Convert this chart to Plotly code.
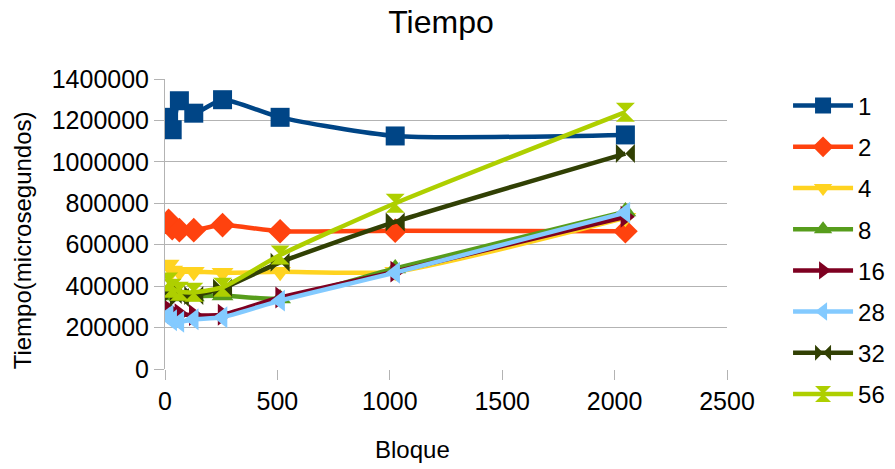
import plotly.graph_objects as go

# Block sizes (Bloque) and measured times in microseconds per thread count
bloque = [16, 32, 64, 128, 256, 512, 1024, 2048]
series_names = ["1", "2", "4", "8", "16", "28", "32", "56"]

t1 = [1215000, 1155000, 1295000, 1235000, 1300000, 1215000, 1125000, 1130000]
t2 = [715000, 680000, 670000, 670000, 695000, 665000, 668000, 665000]
t4 = [505000, 475000, 470000, 470000, 465000, 470000, 470000, 730000]
t8 = [370000, 355000, 350000, 350000, 355000, 340000, 485000, 760000]
t16 = [285000, 270000, 265000, 260000, 262000, 345000, 470000, 735000]
t28 = [260000, 235000, 228000, 240000, 250000, 330000, 465000, 755000]
t32 = [385000, 360000, 345000, 355000, 390000, 515000, 710000, 1040000]
t56 = [420000, 390000, 375000, 370000, 395000, 550000, 800000, 1240000]

values = [t1, t2, t4, t8, t16, t28, t32, t56]
colors = ["#004586", "#ff420e", "#ffd320", "#579d1c",
          "#7e0021", "#83caff", "#314004", "#aecf00"]
symbols = ["square", "diamond", "triangle-down", "triangle-up",
           "triangle-right", "triangle-left", "bowtie", "hourglass"]

FONT = "Liberation Sans, Arial, sans-serif"

fig = go.Figure()
for name, ys, col, sym in zip(series_names, values, colors, symbols):
    fig.add_trace(go.Scatter(
        x=bloque, y=ys, name=name, mode="lines+markers",
        line=dict(color=col, width=4.5, shape="spline", smoothing=0.6),
        marker=dict(symbol=sym, size=19, color=col),
        legendgroup=name,
    ))

fig.update_layout(
    width=895, height=469,
    paper_bgcolor="white", plot_bgcolor="white",
    font=dict(family=FONT, color="black", size=24),
    title=dict(text="Tiempo", x=0.4927, xanchor="center", y=0.953, yanchor="middle",
               font=dict(size=32, family=FONT)),
    margin=dict(l=165, r=168, t=79, b=100, autoexpand=False),
    showlegend=True,
    legend=dict(xref="container", yref="container", x=0.8805, xanchor="left",
                y=0.822, yanchor="top",
                font=dict(size=24, family=FONT), tracegroupgap=7,
                itemwidth=60, maxheight=460, bgcolor="rgba(0,0,0,0)"),
)

# Axis titles placed as annotations
fig.add_annotation(text="Bloque", xref="paper", yref="paper", x=0.441, y=-0.279,
                   xanchor="center", yanchor="middle", showarrow=False,
                   font=dict(size=24, family=FONT))
fig.add_annotation(text="Tiempo(microsegundos)", xref="paper", yref="paper",
                   x=-0.252, y=0.445, textangle=-90,
                   xanchor="center", yanchor="middle", showarrow=False,
                   font=dict(size=24, family=FONT))

fig.update_xaxes(
    range=[0, 2500], tickvals=[0, 500, 1000, 1500, 2000, 2500],
    showgrid=False, zeroline=False,
    showline=False, ticks="outside", ticklen=10, tickcolor="#b3b3b3",
    tickfont=dict(size=25),
)
fig.update_yaxes(
    range=[0, 1400000], tickvals=list(range(0, 1400001, 200000)),
    tickformat="d", showgrid=True, gridcolor="#b3b3b3", gridwidth=1,
    zeroline=False, showline=True, linecolor="#b3b3b3", linewidth=1,
    ticks="outside", ticklen=10, tickcolor="#b3b3b3",
    tickfont=dict(size=25),
)

fig.write_html("out.html")
